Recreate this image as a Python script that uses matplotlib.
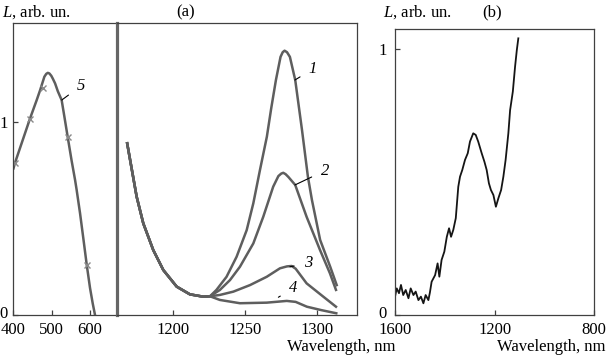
import matplotlib
matplotlib.use("Agg")
import matplotlib.pyplot as plt
from matplotlib.transforms import ScaledTranslation

plt.rcParams['font.family'] = ['Liberation Serif', 'DejaVu Serif']
plt.rcParams['font.size'] = 12
plt.rcParams['mathtext.fontset'] = 'custom'
plt.rcParams['mathtext.rm'] = 'Liberation Serif'
plt.rcParams['mathtext.it'] = 'Liberation Serif:italic'

# panel (a), visible range: curve 5
wl5 = [400.5, 404, 420, 443.5, 461, 470, 481, 486, 490, 494, 499, 503, 509, 516, 526, 533,
       542, 552, 561, 565, 574, 583, 591.4, 600, 607, 613]
L5 = [0.76, 0.786, 0.88, 1.018, 1.114, 1.166, 1.235, 1.25, 1.255, 1.252, 1.24, 1.225, 1.20, 1.16,
      1.114, 1.03, 0.92, 0.80, 0.70, 0.65, 0.527, 0.39, 0.26, 0.14, 0.06, 0.0]
mk5_wl = [404, 443.5, 478, 542, 591.4]
mk5_L = [0.786, 1.018, 1.178, 0.92, 0.26]

# panel (a), IR range: common falling part, then curves 1-4
wl_common = [1168, 1174.6, 1179.2, 1186.1, 1193.1, 1202.4, 1211.6, 1220.8, 1225.5]
L_common = [0.89, 0.613, 0.475, 0.337, 0.233, 0.147, 0.107, 0.095, 0.097]

wl1 = [1230, 1237, 1244, 1251, 1255.6, 1260.2, 1265, 1268, 1271.3, 1274.5, 1276, 1277.3,
       1279, 1281, 1284.7, 1289.4, 1293.5, 1296.3, 1302, 1309, 1313.5]
L1 = [0.13, 0.198, 0.302, 0.44, 0.579, 0.751, 0.924, 1.07, 1.218, 1.338, 1.362, 1.37,
      1.362, 1.338, 1.218, 0.959, 0.717, 0.596, 0.389, 0.25, 0.155]

wl2 = [1232.4, 1239.4, 1246.3, 1255.6, 1262.5, 1269.4, 1273, 1275, 1276.4, 1278, 1280, 1284.7,
       1292.6, 1301.9, 1308.8, 1313]
L2 = [0.13, 0.181, 0.25, 0.371, 0.509, 0.665, 0.72, 0.733, 0.737, 0.73, 0.715, 0.674,
      0.509, 0.337, 0.216, 0.13]

wl3 = [1232.4, 1241.7, 1253.3, 1264.9, 1274.1, 1279, 1282.2, 1285, 1292.6, 1304.2, 1313]
L3 = [0.104, 0.121, 0.155, 0.198, 0.242, 0.252, 0.254, 0.24, 0.164, 0.095, 0.043]

wl4 = [1232.4, 1246.3, 1264.9, 1278.8, 1285, 1292.8, 1303, 1313.2]
L4 = [0.078, 0.061, 0.064, 0.073, 0.068, 0.043, 0.025, 0.009]

# panel (b)
wl_b = [1600, 1593, 1584, 1576, 1567, 1557, 1546, 1537, 1526, 1517,
        1506, 1496, 1486, 1477, 1466, 1460, 1453, 1439, 1429, 1422,
        1413, 1402, 1392, 1383, 1375, 1366, 1356, 1346, 1339, 1330,
        1319, 1308, 1299, 1286, 1276, 1266, 1252, 1241, 1232, 1223,
        1215, 1205, 1195, 1185, 1174, 1165, 1156, 1145, 1138, 1127,
        1118, 1111, 1105]
L_b = [0.069, 0.100, 0.082, 0.113, 0.075, 0.094, 0.063, 0.100, 0.075, 0.088,
       0.056, 0.069, 0.044, 0.075, 0.056, 0.084, 0.125, 0.150, 0.194, 0.144,
       0.207, 0.238, 0.294, 0.326, 0.294, 0.320, 0.364, 0.482, 0.520, 0.545,
       0.583, 0.608, 0.652, 0.683, 0.677, 0.652, 0.608, 0.576, 0.545, 0.495,
       0.470, 0.451, 0.407, 0.439, 0.470, 0.520, 0.583, 0.683, 0.77, 0.84,
       0.934, 0.996, 1.040]

W, H = 607, 356
CURVE = '#5e5e5e'
AXC = '#404040'


def box(x0, y0, x1, y1):
    return [x0 / W, 1 - y1 / H, (x1 - x0) / W, (y1 - y0) / H]


def style(ax):
    for s in ax.spines.values():
        s.set_color(AXC)
        s.set_linewidth(0.9)
    ax.tick_params(direction='in', length=3.5, width=0.9, color=AXC,
                   labelsize=12, pad=4)
    ax.tick_params(axis='x', pad=5)


def lift_zero(ax):
    # nudge the "0" label up a little, clear of the x tick labels
    lab = ax.get_yticklabels()[0]
    lab.set_transform(lab.get_transform() + ScaledTranslation(0, 2 / 72, fig.dpi_scale_trans))


fig = plt.figure(figsize=(W / 100, H / 100), dpi=100)
ax_l = fig.add_axes(box(13.3, 22.7, 116.5, 315))
ax_r = fig.add_axes(box(116.5, 22.7, 357.3, 315), sharey=ax_l)
ax_b = fig.add_axes(box(395, 29.3, 594.3, 315))
for ax in (ax_l, ax_r, ax_b):
    style(ax)

# left part of (a)
ax_l.plot(wl5, L5, color=CURVE, lw=1.8)
ax_l.plot(mk5_wl, mk5_L, 'x', color='#8a8a8a', ms=4.5, mew=1.0)
ax_l.set_xlim(400, 669)
ax_l.set_ylim(0, 1.515)
ax_l.set_xticks([400, 500, 600])
ax_l.set_yticks([0, 1])
ax_l.set_yticklabels(['0', '1'])
ax_l.spines['right'].set_visible(False)
ax_l.annotate('5', xy=(526.2, 1.114), xytext=(576.5, 1.188), fontstyle='italic',
              ha='center', va='center',
              arrowprops=dict(arrowstyle='-', color='black', lw=0.8,
                              shrinkA=5, shrinkB=0))

# right part of (a)
for wl, L in ((wl1, L1), (wl2, L2), (wl3, L3), (wl4, L4)):
    ax_r.plot(wl_common + wl, L_common + L, color=CURVE, lw=1.8)
ax_r.set_xlim(1160.6, 1327.8)
ax_r.set_xticks([1200, 1250, 1300])
ax_r.tick_params(left=False, labelleft=False)
ax_r.spines['left'].set_color('#666666')
ax_r.spines['left'].set_linewidth(2.3)

labels = [('1', (1284.5, 1.218), (1297, 1.275)),
          ('2', (1284.5, 0.674), (1305.3, 0.748)),
          ('3', (1281, 0.25), (1293.5, 0.268)),
          ('4', (1273, 0.092), (1283.3, 0.138))]
for txt, xy, xyt in labels:
    ax_r.annotate(txt, xy=xy, xytext=xyt, fontstyle='italic', ha='center',
                  va='center',
                  arrowprops=dict(arrowstyle='-', color='black', lw=0.8,
                                  shrinkA=5, shrinkB=0))

# panel (b)
ax_b.plot(wl_b, L_b, color='#151515', lw=1.3)
ax_b.set_xlim(1600, 800)
ax_b.set_ylim(0, 1.074)
ax_b.set_xticks([1600, 1200, 800])
ax_b.set_yticks([0, 1])
ax_b.set_yticklabels(['0', '1'])
ax_b.tick_params(axis='y', pad=6)

lift_zero(ax_l)
lift_zero(ax_b)

ty = 1 - 12 / H
fig.text(2 / W, ty, r'$L$, arb. un.', ha='left', va='center', fontsize=12)
fig.text(186 / W, ty, '(a)', ha='center', va='center', fontsize=12)
fig.text(383 / W, ty, r'$L$, arb. un.', ha='left', va='center', fontsize=12)
fig.text(492 / W, ty, '(b)', ha='center', va='center', fontsize=12)
fig.text(287 / W, 1 - 347 / H, 'Wavelength, nm', ha='left', va='center', fontsize=12)
fig.text(497 / W, 1 - 347 / H, 'Wavelength, nm', ha='left', va='center', fontsize=12)

fig.savefig('out.png', dpi=100)
